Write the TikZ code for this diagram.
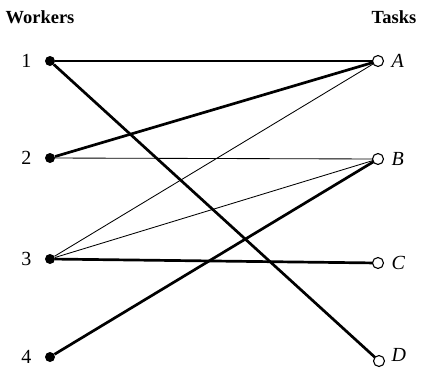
\documentclass[tikz,border=0pt]{standalone}
\usepackage{fontspec}
\setmainfont{Liberation Serif}
\begin{document}
\begin{tikzpicture}[x=1pt,y=-1pt,
  worker/.style={circle,fill=black,inner sep=0pt,minimum size=10pt},
  task/.style={circle,draw=black,fill=white,line width=1.1pt,inner sep=0pt,minimum size=11pt},
  head/.style={font=\fontsize{18.5}{20}\selectfont\bfseries},
  lab/.style={font=\fontsize{20}{22}\selectfont},
  ilab/.style={font=\fontsize{20}{22}\selectfont\itshape},
  thin/.style={line width=0.85pt},
  medium/.style={line width=1.3pt},
  bold/.style={line width=2.7pt}]
\useasboundingbox (0,0) rectangle (426,373);
\node[head,anchor=base] (hw) at (40,23) {Workers};
\node[head,anchor=base] (ht) at (394,23) {Tasks};
\node[worker] (w1) at (50,61) {};
\node[worker] (w2) at (50,158) {};
\node[worker] (w3) at (50,259) {};
\node[worker] (w4) at (50,357) {};
\coordinate (a) at (378,61);
\coordinate (b) at (378,159);
\coordinate (c) at (378,263);
\coordinate (d) at (379,361);
\node[lab,anchor=east] (l1) at (w1.west) [xshift=-10pt] {1};
\node[lab,anchor=east] (l2) at (w2.west) [xshift=-10pt] {2};
\node[lab,anchor=east] (l3) at (w3.west) [xshift=-10pt] {3};
\node[lab,anchor=east] (l4) at (w4.west) [xshift=-10pt] {4};
\draw[medium] (w1) -- (a);
\draw[bold] (w1) -- (d);
\draw[bold] (w2) -- (a);
\draw[thin] (w2) -- (b);
\draw[thin] (w3) -- (a);
\draw[thin] (w3) -- (b);
\draw[bold] (w3) -- (c);
\draw[bold] (w4) -- (b);
\node[task] (ta) at (a) {};
\node[task] (tb) at (b) {};
\node[task] (tc) at (c) {};
\node[task] (td) at (d) {};
\node[ilab,anchor=west] (la) at (ta.east) [xshift=4pt] {A};
\node[ilab,anchor=west] (lb) at (tb.east) [xshift=4pt] {B};
\node[ilab,anchor=west] (lc) at (tc.east) [xshift=4pt] {C};
\node[ilab,anchor=west] (ld) at (td.east) [xshift=3pt,yshift=6pt] {D};
\end{tikzpicture}
\end{document}
